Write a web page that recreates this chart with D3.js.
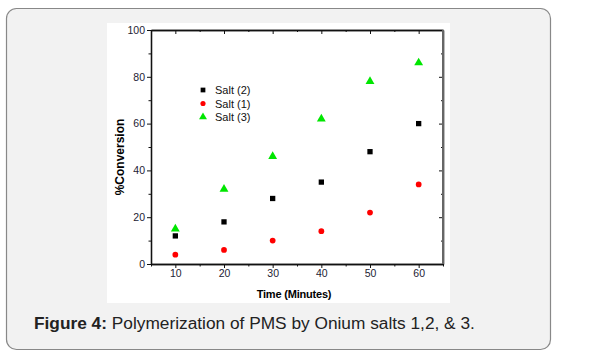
<!DOCTYPE html>
<html>
<head>
<meta charset="utf-8">
<script src="https://cdn.jsdelivr.net/npm/d3@7"></script>
<style>
  body { margin: 0; background: #fff; }
  svg { display: block; }
</style>
</head>
<body>
<svg id="chart" width="613" height="362"></svg>
<script>
// data
var times = [10, 20, 30, 40, 50, 60];
var salt2 = [12, 18, 28, 35, 48, 60];
var salt1 = [4, 6, 10, 14, 22, 34];
var salt3 = [15, 32, 46, 62, 78, 86];
var xTicks = [10, 20, 30, 40, 50, 60];
var yTicks = [0, 20, 40, 60, 80, 100];
var legendNames = ["Salt (2)", "Salt (1)", "Salt (3)"];

var svg = d3.select("#chart");

// card
svg.append("rect")
  .attr("x", 6.5).attr("y", 8.5)
  .attr("width", 544).attr("height", 341)
  .attr("rx", 10).attr("ry", 10)
  .attr("fill", "#f2f2f2")
  .attr("stroke", "#888").attr("stroke-width", 1.2);

// white figure area
svg.append("rect")
  .attr("x", 107).attr("y", 23)
  .attr("width", 343).attr("height", 280)
  .attr("fill", "#fff");

var margin = {left: 151, right: 443, top: 30, bottom: 264};

var x = d3.scaleLinear().domain([5, 65]).range([margin.left, margin.right]);
var y = d3.scaleLinear().domain([0, 100]).range([margin.bottom, margin.top]);

var minorX = d3.range(5, 66, 10);
var minorY = d3.range(10, 100, 20);

// bottom axis
svg.append("g").attr("transform", "translate(0," + margin.bottom + ")")
  .call(d3.axisBottom(x).tickValues(xTicks).tickSize(4).tickPadding(2).tickSizeOuter(0));
svg.append("g").attr("transform", "translate(0," + margin.bottom + ")")
  .call(d3.axisBottom(x).tickValues(minorX).tickSize(2.5).tickFormat("").tickSizeOuter(0));

// left axis
svg.append("g").attr("transform", "translate(" + margin.left + ",0)")
  .call(d3.axisLeft(y).tickValues(yTicks).tickSize(4).tickPadding(2).tickSizeOuter(0));
svg.append("g").attr("transform", "translate(" + margin.left + ",0)")
  .call(d3.axisLeft(y).tickValues(minorY).tickSize(2.5).tickFormat("").tickSizeOuter(0));

// top axis (ticks inward)
svg.append("g").attr("transform", "translate(0," + margin.top + ")")
  .call(d3.axisBottom(x).tickValues(xTicks).tickSize(4).tickFormat("").tickSizeOuter(0));
svg.append("g").attr("transform", "translate(0," + margin.top + ")")
  .call(d3.axisBottom(x).tickValues(minorX).tickSize(2).tickFormat("").tickSizeOuter(0));

// right axis (ticks inward)
svg.append("g").attr("transform", "translate(" + margin.right + ",0)")
  .call(d3.axisLeft(y).tickValues(yTicks).tickSize(4).tickFormat("").tickSizeOuter(0));
svg.append("g").attr("transform", "translate(" + margin.right + ",0)")
  .call(d3.axisLeft(y).tickValues(minorY).tickSize(2).tickFormat("").tickSizeOuter(0));

svg.selectAll(".domain").attr("stroke", "#111").attr("stroke-width", 1.3);
svg.selectAll(".tick line").attr("stroke", "#111").attr("stroke-width", 1);
svg.selectAll(".tick text")
  .attr("font-family", "Liberation Sans, Arial, sans-serif")
  .attr("font-size", 10.5)
  .attr("fill", "#223");

// right axis drawn a bit heavier/grey like the picture
svg.append("line")
  .attr("x1", margin.right).attr("x2", margin.right)
  .attr("y1", margin.top).attr("y2", margin.bottom)
  .attr("stroke", "#666").attr("stroke-width", 2);

// axis titles
svg.append("text")
  .attr("x", 294).attr("y", 298)
  .attr("text-anchor", "middle")
  .attr("font-family", "Liberation Sans, Arial, sans-serif")
  .attr("font-size", 11).attr("font-weight", "bold")
  .attr("letter-spacing", -0.2)
  .text("Time (Minutes)");

svg.append("text")
  .attr("transform", "translate(124,157) rotate(-90)")
  .attr("text-anchor", "middle")
  .attr("font-family", "Liberation Sans, Arial, sans-serif")
  .attr("font-size", 12).attr("font-weight", "bold")
  .text("%Conversion");

// markers
var series = [
  {name: legendNames[0], values: salt2, color: "#000", shape: d3.symbolSquare, size: 28},
  {name: legendNames[1], values: salt1, color: "#f00", shape: d3.symbolCircle, size: 26},
  {name: legendNames[2], values: salt3, color: "#00e600", shape: d3.symbolTriangle, size: 34}
];

series.forEach(function(s) {
  svg.append("g").selectAll("path")
    .data(s.values)
    .enter()
    .append("path")
      .attr("transform", function(d, i) { return "translate(" + x(times[i]) + "," + y(d) + ")"; })
      .attr("d", d3.symbol().type(s.shape).size(s.size))
      .attr("fill", s.color);
});

// legend
var legend = svg.append("g").attr("transform", "translate(203,90)");
legend.selectAll("g")
  .data(series)
  .enter()
  .append("g")
    .attr("transform", function(d, i) { return "translate(0," + (i * 13.5) + ")"; })
    .each(function(d) {
      var g = d3.select(this);
      g.append("path")
        .attr("d", d3.symbol().type(d.shape).size(d.size * 0.8))
        .attr("fill", d.color);
      g.append("text")
        .attr("x", 12).attr("y", 4)
        .attr("font-family", "Liberation Sans, Arial, sans-serif")
        .attr("font-size", 11)
        .attr("fill", "#111")
        .text(d.name);
    });

// caption
var cap = svg.append("text")
  .attr("x", 34).attr("y", 329)
  .attr("font-family", "Liberation Sans, Arial, sans-serif")
  .attr("font-size", 17.3)
  .attr("fill", "#222");
cap.append("tspan").attr("font-weight", "bold").text("Figure 4:");
cap.append("tspan").text(" Polymerization of PMS by Onium salts 1,2, & 3.");
</script>
</body>
</html>
